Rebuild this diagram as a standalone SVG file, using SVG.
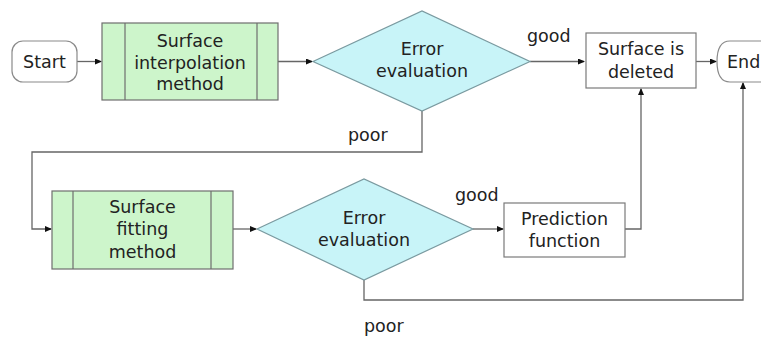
<svg xmlns="http://www.w3.org/2000/svg" width="761" height="338" viewBox="0 0 761 338">
<defs>
<marker id="ah" markerWidth="7" markerHeight="6" refX="6" refY="3" orient="auto" markerUnits="userSpaceOnUse">
<path d="M0,0 L7,3 L0,6 Z" fill="#111"/>
</marker>
<style>
.t{font-family:"DejaVu Sans","Verdana",sans-serif;font-size:17.5px;fill:#222;text-anchor:middle}
.l{font-family:"DejaVu Sans","Verdana",sans-serif;font-size:17.5px;fill:#222}
.proc{fill:#cdf5cb;stroke:#6e6e6e;stroke-width:1.2}
.dec{fill:#c8f4f8;stroke:#7a9aa0;stroke-width:1.2}
.box{fill:#fff;stroke:#7a7a7a;stroke-width:1.2}
.term{fill:#fff;stroke:#8a8a8a;stroke-width:1.2}
.c{fill:none;stroke:#666;stroke-width:1.3}
.a{marker-end:url(#ah)}
</style>
</defs>
<rect width="761" height="338" fill="#fff"/>
<g id="connectors">
<path class="c a" d="M77,61.5 H101"/>
<path class="c a" d="M278,61.5 H312"/>
<path class="c a" d="M530,61.5 H584"/>
<path class="c a" d="M696,61.5 H716"/>
<path class="c a" d="M422,111 V152 H32 V229 H51"/>
<path class="c a" d="M233,229 H256"/>
<path class="c a" d="M473,229 H503"/>
<path class="c a" d="M625,229 H641 V89"/>
<path class="c a" d="M364,280 V300 H743 V83"/>
</g>
<g id="start">
<rect class="term" x="12" y="41" width="65" height="41" rx="11"/>
<text class="t" x="44.5" y="68">Start</text>
</g>
<g id="interp">
<rect class="proc" x="102" y="23" width="176" height="77"/>
<line class="proc" x1="125" y1="23" x2="125" y2="100"/>
<line class="proc" x1="257" y1="23" x2="257" y2="100"/>
<text class="t" x="190" y="47">Surface</text>
<text class="t" x="190" y="68.5">interpolation</text>
<text class="t" x="190" y="90">method</text>
</g>
<g id="eval1">
<polygon class="dec" points="313,61.5 422,11 530,61.5 422,111"/>
<text class="t" x="422" y="55">Error</text>
<text class="t" x="422" y="77">evaluation</text>
</g>
<g id="deleted">
<rect class="box" x="586" y="33" width="110" height="55"/>
<text class="t" x="641" y="55">Surface is</text>
<text class="t" x="641" y="78">deleted</text>
</g>
<g id="end">
<path class="term" d="M790,41 H730 Q717,41 717,61.5 Q717,82 730,82 H790"/>
<text class="l" x="727" y="68">End</text>
</g>
<g id="fitting">
<rect class="proc" x="52" y="191" width="181" height="78"/>
<line class="proc" x1="73" y1="191" x2="73" y2="269"/>
<line class="proc" x1="211" y1="191" x2="211" y2="269"/>
<text class="t" x="142.5" y="213">Surface</text>
<text class="t" x="142.5" y="235">fitting</text>
<text class="t" x="142.5" y="258">method</text>
</g>
<g id="eval2">
<polygon class="dec" points="257,229 364,179 473,229 364,280"/>
<text class="t" x="364" y="224">Error</text>
<text class="t" x="364" y="246">evaluation</text>
</g>
<g id="prediction">
<rect class="box" x="504" y="203" width="121" height="54"/>
<text class="t" x="564.5" y="225">Prediction</text>
<text class="t" x="564.5" y="247">function</text>
</g>
<g id="labels">
<text class="l" x="527" y="42">good</text>
<text class="l" x="348" y="141">poor</text>
<text class="l" x="455" y="201">good</text>
<text class="l" x="364" y="332">poor</text>
</g>
</svg>
